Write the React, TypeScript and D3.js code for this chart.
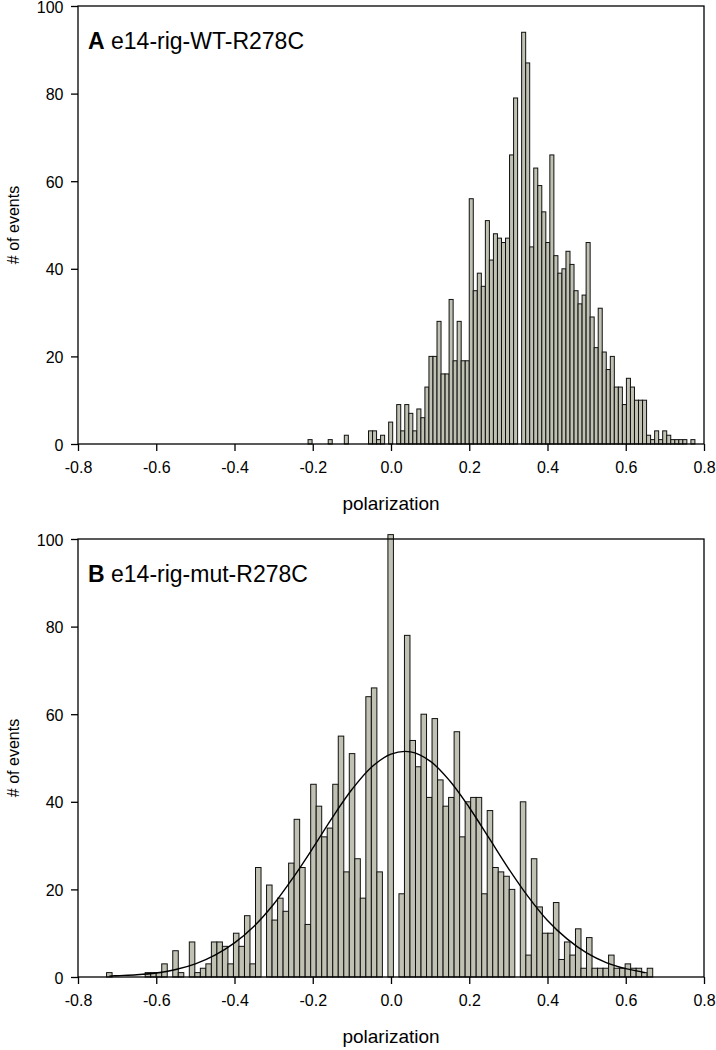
import React, { useRef, useEffect } from 'react';
import * as d3 from 'd3';

// axis ticks
const xTicks = [-0.8, -0.6, -0.4, -0.2, 0.0, 0.2, 0.4, 0.6, 0.8];
const yTicks = [0, 20, 40, 60, 80, 100];

// panel A: e14-rig-WT-R278C, histogram
const wtBinStart = -0.212;
const wtBinWidth = 0.0103;
const wtCounts = [
  1, 0, 0, 0, 0, 1, 0, 0, 0, 2,
  0, 0, 0, 0, 0, 3, 3, 1, 2, 0,
  5, 0, 9, 3, 9, 7, 3, 8, 6, 13,
  20, 20, 28, 16, 16, 33, 19, 28, 19, 19,
  56, 35, 39, 36, 51, 42, 48, 47, 46, 47,
  66, 79, 0, 94, 87, 45, 63, 59, 53, 46,
  66, 43, 39, 40, 44, 41, 35, 32, 34, 46,
  29, 22, 31, 21, 17, 20, 13, 13, 9, 15,
  13, 10, 10, 10, 2, 1, 3, 1, 3, 2,
  1, 1, 1, 1, 0, 1,
];

// panel B: e14-rig-mut-R278C
const mutBinStart = -0.727;
const mutBinWidth = 0.0141;
const mutCounts = [
  1, 0, 0, 0, 0, 0, 0, 1, 1, 1,
  3, 0, 6, 1, 0, 8, 1, 2, 3, 8,
  8, 7, 3, 10, 7, 14, 3, 25, 0, 21,
  13, 18, 15, 26, 36, 25, 12, 44, 39, 32,
  34, 44, 55, 24, 51, 27, 18, 64, 66, 24,
  0, 101, 0, 19, 78, 54, 48, 60, 41, 59,
  45, 39, 41, 56, 32, 40, 41, 41, 19, 38,
  25, 24, 23, 20, 0, 40, 5, 27, 16, 10,
  10, 17, 4, 8, 5, 11, 2, 9, 2, 2,
  2, 5, 2, 2, 3, 2, 2, 1, 2,
];

// fitted curve on panel B
const fitX = [-0.72, -0.70, -0.65, -0.60, -0.55, -0.50, -0.45, -0.40, -0.35, -0.30,
  -0.25, -0.20, -0.15, -0.10, -0.05, 0.00, 0.05, 0.10, 0.15, 0.20,
  0.25, 0.30, 0.35, 0.40, 0.45, 0.50, 0.55, 0.60, 0.65];
const fitY = [0.2, 0.3, 0.5, 0.9, 1.7, 3.0, 5.0, 7.8, 11.6, 16.6,
  22.7, 29.4, 36.4, 42.8, 47.9, 50.9, 51.4, 49.3, 44.8, 38.7,
  31.8, 24.8, 18.4, 12.9, 8.7, 5.5, 3.3, 1.9, 1.0];

const FONT = '"Liberation Sans", Arial, Helvetica, sans-serif';

const App = () => {
  const svgRef = useRef<SVGSVGElement>(null);

  useEffect(() => {
    const width = 716;
    const height = 1050;
    const left = 78;
    const right = 704;

    const svg = d3.select(svgRef.current)
      .attr('width', width)
      .attr('height', height)
      .style('background', 'white');

    svg.selectAll('*').remove();

    const panels = [
      { letter: 'A', title: 'e14-rig-WT-R278C', top: 6, bottom: 444, start: wtBinStart, bin: wtBinWidth, counts: wtCounts, fit: false },
      { letter: 'B', title: 'e14-rig-mut-R278C', top: 539, bottom: 977, start: mutBinStart, bin: mutBinWidth, counts: mutCounts, fit: true },
    ];

    panels.forEach(p => {
      const xScale = d3.scaleLinear().domain([-0.8, 0.8]).range([left, right]);
      const yScale = d3.scaleLinear().domain([0, 100]).range([p.bottom, p.top]);
      const g = svg.append('g');

      const bins = p.counts
        .map((c, i) => ({ c, x0: p.start + i * p.bin, x1: p.start + (i + 1) * p.bin }))
        .filter(d => d.c > 0);

      // bars
      g.selectAll('rect.bar')
        .data(bins)
        .join('rect')
        .attr('class', 'bar')
        .attr('x', d => xScale(d.x0))
        .attr('width', d => xScale(d.x1) - xScale(d.x0))
        .attr('y', d => yScale(d.c))
        .attr('height', d => yScale(0) - yScale(d.c))
        .attr('fill', '#c0c0b3')
        .attr('stroke', '#111')
        .attr('stroke-width', 1);

      // fitted curve
      if (p.fit) {
        const line = d3.line<number>()
          .x((d, i) => xScale(fitX[i]))
          .y(d => yScale(d))
          .curve(d3.curveCatmullRom);
        g.append('path')
          .datum(fitY)
          .attr('fill', 'none')
          .attr('stroke', 'black')
          .attr('stroke-width', 1.4)
          .attr('d', line);
      }

      // frame
      g.append('rect')
        .attr('x', left)
        .attr('y', p.top)
        .attr('width', right - left)
        .attr('height', p.bottom - p.top)
        .attr('fill', 'none')
        .attr('stroke', 'black')
        .attr('stroke-width', 1.3);

      const yAxis = d3.axisLeft(yScale).tickValues(yTicks).tickSize(7).tickSizeOuter(0).tickPadding(7.5)
        .tickFormat(d => String(d));
      const xAxis = d3.axisBottom(xScale).tickValues(xTicks).tickSize(7).tickSizeOuter(0).tickPadding(10.5)
        .tickFormat(d => (+d).toFixed(1));

      const ya = g.append('g').attr('transform', `translate(${left},0)`).call(yAxis);
      const xa = g.append('g').attr('transform', `translate(0,${p.bottom})`).call(xAxis);
      [ya, xa].forEach(a => {
        a.select('.domain').remove();
        a.selectAll('line').attr('stroke', 'black').attr('stroke-width', 1.3);
        a.selectAll('text')
          .attr('fill', 'black')
          .style('font-family', FONT)
          .style('font-size', '16px');
      });
      ya.selectAll('text').attr('dy', '0.38em');

      // axis titles
      g.append('text')
        .attr('text-anchor', 'middle')
        .attr('x', (left + right) / 2)
        .attr('y', p.bottom + 66)
        .style('font-family', FONT)
        .style('font-size', '19px')
        .text('polarization');

      g.append('text')
        .attr('text-anchor', 'middle')
        .attr('transform', `translate(19,${(p.top + p.bottom) / 2}) rotate(-90)`)
        .style('font-family', FONT)
        .style('font-size', '16px')
        .text('# of events');

      // panel title
      const t = g.append('text')
        .attr('x', 88)
        .attr('y', p.top + 43)
        .style('font-family', FONT)
        .style('font-size', '23px');
      t.append('tspan').attr('font-weight', 'bold').text(p.letter);
      t.append('tspan').text(' ' + p.title);
    });
  }, []);

  return (
    <div style={{ position: 'absolute', left: 0, top: 0, width: 716, height: 1050, background: 'white' }}>
      <svg ref={svgRef}></svg>
    </div>
  );
};

export default App;
